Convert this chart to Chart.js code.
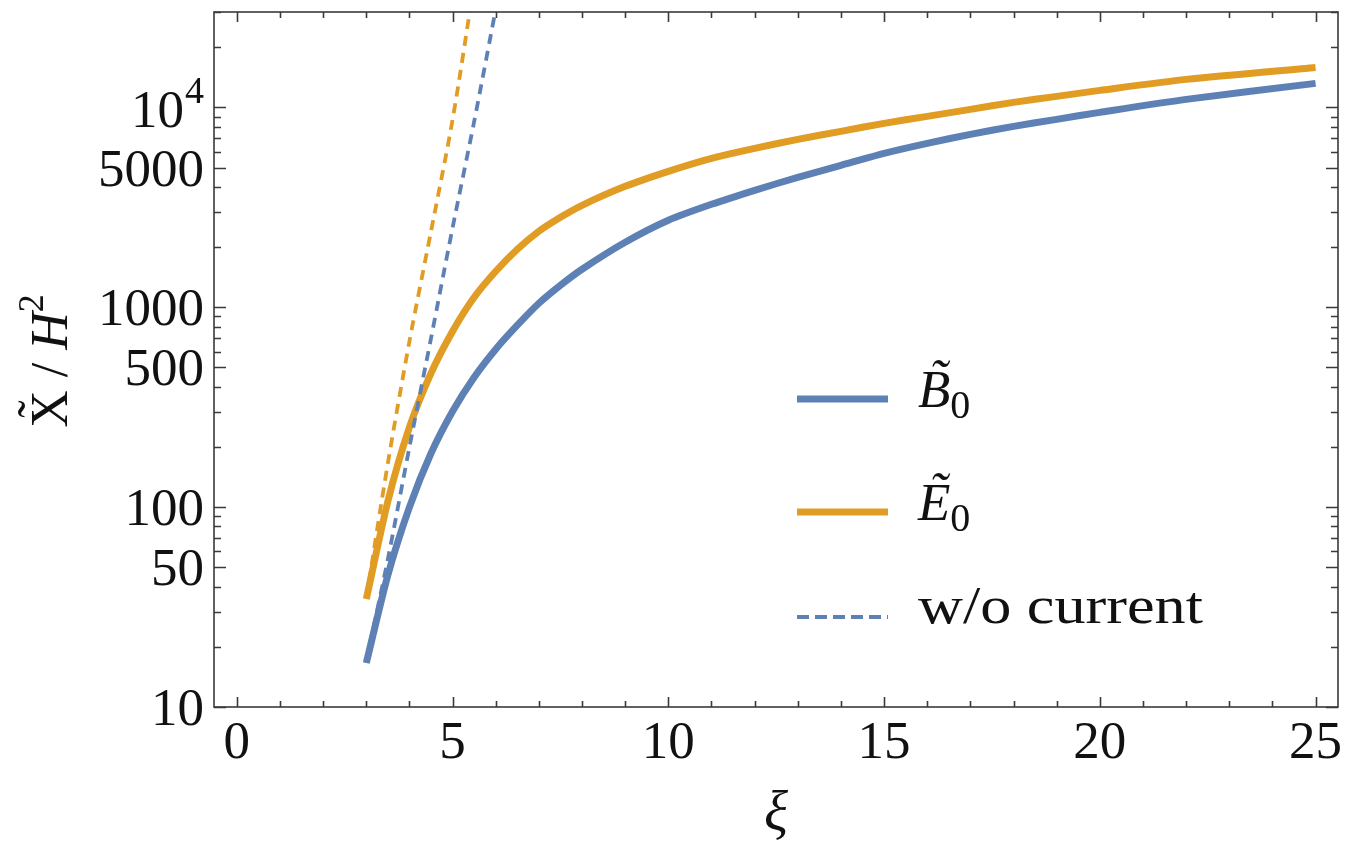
<!DOCTYPE html>
<html>
<head>
<meta charset="utf-8">
<title>X / H^2 vs xi</title>
<script src="https://cdn.jsdelivr.net/npm/chart.js@4.4.1/dist/chart.umd.min.js"></script>
<style>
    html, body { margin: 0; padding: 0; background: #ffffff; }
    #wrap { width: 1346px; height: 849px; }
</style>
</head>
<body>
<div id="wrap"><canvas id="chart" width="1346" height="849"></canvas></div>
<script>
// Data
const xiSolid = [3, 3.5, 4, 4.5, 5, 5.5, 6, 6.5, 7, 7.5, 8, 9, 10, 11, 12, 13, 14, 15, 16, 17, 18, 19, 20, 22, 25];
const bTilde = [16.6, 45.7, 100, 186, 302, 447, 617, 813, 1047, 1288, 1549, 2113, 2723, 3273, 3846, 4467, 5129, 5888, 6607, 7328, 8035, 8710, 9441, 10965, 13183];
const eTilde = [34.7, 107, 251, 468, 759, 1122, 1514, 1950, 2399, 2818, 3236, 4027, 4786, 5559, 6237, 6918, 7586, 8318, 9016, 9772, 10593, 11350, 12162, 13804, 15849];

// "w/o current" curves (dashed)
const xiFreeB = [3, 3.5, 4, 4.5, 5, 5.5, 6];
const bFree = [17, 55, 200, 700, 2500, 8500, 31000];
const xiFreeE = [3, 3.5, 4, 4.5, 5, 5.5];
const eFree = [35, 166, 676, 2400, 8700, 41700];

// Axes
const xRange = [-0.53, 25.52];
const yRange = [10, 30000];
const xMajorTicks = [0, 5, 10, 15, 20, 25];
const yMajorTicks = [10, 50, 100, 500, 1000, 5000, 10000];
const yTickLabels = ['10', '50', '100', '500', '1000', '5000', '10^4'];

const colors = {
    blue: '#5E81B5',
    orange: '#E19C24',
    frame: '#3a3a3a',
    text: '#111111'
};

const serif = '"Liberation Serif", "DejaVu Serif", serif';

function toPoints(xs, ys) {
    return xs.map((x, i) => ({ x: x, y: ys[i] }));
}

function xMinorTicks() {
    const out = [];
    for (let v = 0; v <= 25; v++) {
        if (v % 5 !== 0) out.push(v);
    }
    return out;
}

function yMinorTicks() {
    const out = [];
    for (let dec = 10; dec <= 10000; dec *= 10) {
        for (let m = 2; m <= 9; m++) {
            if (m === 5) continue;
            const v = m * dec;
            if (v <= yRange[1]) out.push(v);
        }
    }
    return out;
}

// draws text pieces left to right, returns the end x
function drawRun(ctx, parts, x, y) {
    parts.forEach(p => {
        ctx.font = p.font;
        ctx.fillText(p.text, x, y + (p.dy || 0));
        if (p.tilde) {
            const w = ctx.measureText(p.text).width;
            ctx.textAlign = 'center';
            ctx.fillText('\u02DC', x + w / 2 + (p.tildeDx || 0), y + p.tilde);
            ctx.textAlign = 'left';
        }
        x += ctx.measureText(p.text).width;
    });
    return x;
}

function runWidth(ctx, parts) {
    let w = 0;
    parts.forEach(p => {
        ctx.font = p.font;
        w += ctx.measureText(p.text).width;
    });
    return w;
}

const axesPlugin = {
    id: 'mmaAxes',
    afterDatasetsDraw(chart) {
        const ctx = chart.ctx;
        const a = chart.chartArea;
        const x = chart.scales.x;
        const y = chart.scales.y;

        ctx.save();
        ctx.strokeStyle = colors.frame;
        ctx.lineWidth = 1.6;
        ctx.strokeRect(a.left, a.top, a.right - a.left, a.bottom - a.top);

        // ticks (inside, mirrored on all four sides)
        ctx.beginPath();
        const xTick = (v, len) => {
            const px = Math.round(x.getPixelForValue(v)) + 0.5;
            ctx.moveTo(px, a.bottom); ctx.lineTo(px, a.bottom - len);
            ctx.moveTo(px, a.top); ctx.lineTo(px, a.top + len);
        };
        const yTick = (v, len) => {
            const py = Math.round(y.getPixelForValue(v)) + 0.5;
            ctx.moveTo(a.left, py); ctx.lineTo(a.left + len, py);
            ctx.moveTo(a.right, py); ctx.lineTo(a.right - len, py);
        };
        xMajorTicks.forEach(v => xTick(v, 10));
        xMinorTicks().forEach(v => xTick(v, 6));
        yMajorTicks.forEach(v => yTick(v, 12));
        yMinorTicks().forEach(v => yTick(v, 7));
        ctx.stroke();

        ctx.fillStyle = colors.text;

        // x tick labels
        ctx.font = '53px ' + serif;
        ctx.textAlign = 'center';
        ctx.textBaseline = 'alphabetic';
        xMajorTicks.forEach(v => {
            ctx.fillText(String(v), x.getPixelForValue(v), 758);
        });

        // y tick labels
        yMajorTicks.forEach((v, i) => {
            const py = y.getPixelForValue(v);
            const label = yTickLabels[i];
            ctx.textAlign = 'right';
            if (label.indexOf('^') > -1) {
                const [base, exp] = label.split('^');
                ctx.font = '38px ' + serif;
                ctx.fillText(exp, 204, py - 4);
                const ew = ctx.measureText(exp).width;
                ctx.font = '53px ' + serif;
                ctx.fillText(base, 204 - ew - 1, py + 20);
            } else {
                ctx.font = '53px ' + serif;
                ctx.fillText(label, 204, py + 18);
            }
        });

        // x axis title
        ctx.textAlign = 'center';
        ctx.font = 'italic 56px ' + serif;
        ctx.fillText('\u03BE', (a.left + a.right) / 2, 830);

        // y axis title, rotated
        ctx.save();
        ctx.translate(67, 361);
        ctx.rotate(-Math.PI / 2);
        ctx.textAlign = 'left';
        const titleParts = [
            { text: 'X', font: '52px ' + serif, tilde: -13 },
            { text: ' / ', font: '52px ' + serif },
            { text: 'H', font: 'italic 52px ' + serif },
            { text: '2', font: '36px ' + serif, dy: -24 }
        ];
        drawRun(ctx, titleParts, -runWidth(ctx, titleParts) / 2, 0);
        ctx.restore();

        // legend
        const legendRows = [
            { y: 399, color: colors.blue, dash: [], width: 7, parts: [
                { text: 'B', font: 'italic 53px ' + serif, tilde: -11, tildeDx: 4 },
                { text: '0', font: '40px ' + serif, dy: 11 }
            ] },
            { y: 512, color: colors.orange, dash: [], width: 7, parts: [
                { text: 'E', font: 'italic 53px ' + serif, tilde: -11, tildeDx: 4 },
                { text: '0', font: '40px ' + serif, dy: 11 }
            ] },
            { y: 617, color: colors.blue, dash: [12, 6], width: 4, parts: [
                { text: 'w/o current', font: '53px ' + serif }
            ], fitWidth: 285 }
        ];
        legendRows.forEach(row => {
            ctx.save();
            ctx.strokeStyle = row.color;
            ctx.lineWidth = row.width;
            ctx.lineCap = 'butt';
            ctx.setLineDash(row.dash);
            ctx.beginPath();
            ctx.moveTo(797, row.y);
            ctx.lineTo(888, row.y);
            ctx.stroke();
            ctx.restore();

            ctx.textAlign = 'left';
            ctx.fillStyle = colors.text;
            if (row.fitWidth) {
                const w = runWidth(ctx, row.parts);
                ctx.save();
                ctx.translate(918, 0);
                ctx.scale(row.fitWidth / w, 1);
                drawRun(ctx, row.parts, 0, row.y + 6);
                ctx.restore();
            } else {
                drawRun(ctx, row.parts, 918, row.y + 8);
            }
        });

        ctx.restore();
    }
};

const ctx = document.getElementById('chart');
new Chart(ctx, {
    type: 'line',
    data: {
        datasets: [
            {
                label: 'E0 w/o current',
                data: toPoints(xiFreeE, eFree),
                borderColor: colors.orange,
                borderWidth: 3.8,
                borderDash: [10, 7],
                borderCapStyle: 'butt',
                tension: 0.3,
                pointRadius: 0,
                fill: false
            },
            {
                label: 'B0 w/o current',
                data: toPoints(xiFreeB, bFree),
                borderColor: colors.blue,
                borderWidth: 3.8,
                borderDash: [10, 7],
                borderCapStyle: 'butt',
                tension: 0.3,
                pointRadius: 0,
                fill: false
            },
            {
                label: 'E0',
                data: toPoints(xiSolid, eTilde),
                borderColor: colors.orange,
                borderWidth: 7,
                borderCapStyle: 'butt',
                borderJoinStyle: 'round',
                tension: 0.25,
                pointRadius: 0,
                fill: false
            },
            {
                label: 'B0',
                data: toPoints(xiSolid, bTilde),
                borderColor: colors.blue,
                borderWidth: 7,
                borderCapStyle: 'butt',
                borderJoinStyle: 'round',
                tension: 0.25,
                pointRadius: 0,
                fill: false
            }
        ]
    },
    options: {
        responsive: false,
        animation: false,
        devicePixelRatio: 1,
        layout: {
            padding: { left: 214, right: 8, top: 12, bottom: 142 }
        },
        plugins: {
            legend: { display: false },
            tooltip: { enabled: false }
        },
        scales: {
            x: {
                type: 'linear',
                min: xRange[0],
                max: xRange[1],
                display: false
            },
            y: {
                type: 'logarithmic',
                min: yRange[0],
                max: yRange[1],
                display: false
            }
        }
    },
    plugins: [axesPlugin]
});
</script>
</body>
</html>
